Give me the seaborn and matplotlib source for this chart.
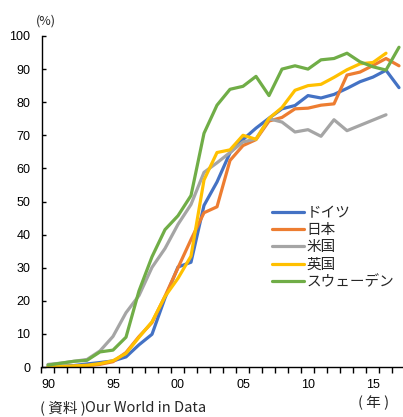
import numpy as np
import pandas as pd
import matplotlib
matplotlib.use("Agg")
import matplotlib.pyplot as plt
import seaborn as sns

years = list(range(1990, 2018))
germany = [0.13, 0.25, 0.44, 0.92, 1.35, 1.84, 3.05, 6.71, 9.88, 20.85, 30.2, 31.65, 48.82, 55.9,
           64.73, 68.71, 72.16, 75.16, 78.0, 79.0, 82.0, 81.27, 82.35, 84.17, 86.19, 87.59, 89.65, 84.4]
japan = [0.02, 0.04, 0.1, 0.4, 0.8, 1.6, 4.37, 9.2, 13.4, 21.4, 29.99, 38.5, 46.6, 48.4,
         62.4, 66.9, 68.7, 74.3, 75.4, 78.0, 78.2, 79.1, 79.5, 88.2, 89.1, 91.1, 93.2, 91.0]
usa = [0.78, 1.16, 1.72, 2.27, 4.86, 9.24, 16.4, 21.6, 30.1, 35.8, 43.1, 49.1, 58.8, 61.7,
       64.8, 68.0, 68.9, 75.0, 74.0, 71.0, 71.7, 69.7, 74.7, 71.4, 73.0, 74.6, 76.2]
uk = [0.09, 0.17, 0.35, 0.52, 1.04, 1.9, 4.1, 8.97, 13.67, 21.3, 26.8, 33.5, 56.5, 64.8,
      65.6, 70.0, 68.8, 75.1, 78.4, 83.6, 85.0, 85.4, 87.5, 89.8, 91.6, 92.0, 94.8]
sweden = [0.58, 1.16, 1.73, 2.02, 4.56, 5.1, 9.0, 23.0, 33.3, 41.5, 45.7, 51.8, 70.6, 79.1,
          83.9, 84.8, 87.8, 82.0, 90.0, 91.0, 90.0, 92.8, 93.2, 94.8, 92.2, 90.7, 89.7, 96.6]

series_names = ["ドイツ", "日本", "米国", "英国", "スウェーデン"]
series_values = [germany, japan, usa, uk, sweden]
colors = ["#4472C4", "#ED7D31", "#A5A5A5", "#FFC000", "#70AD47"]
xtick_years = [1990, 1995, 2000, 2005, 2010, 2015]
xtick_labels = ["90", "95", "00", "05", "10", "15"]

rows = []
for name, vals in zip(series_names, series_values):
    for y, v in zip(years, vals):
        rows.append({"year": y, "value": v, "country": name})
df = pd.DataFrame(rows)

sns.set_style("white")
plt.rcParams["font.family"] = ["Liberation Sans", "Noto Sans CJK JP", "DejaVu Sans"]

fig = plt.figure(figsize=(4.03, 4.17), dpi=100)
ax = fig.add_axes([41.5 / 403, 1 - 367 / 417, (405.5 - 41.5) / 403, 331 / 417])

sns.lineplot(data=df, x="year", y="value", hue="country", hue_order=series_names,
             palette=colors, linewidth=2.3, ax=ax, legend=True)

ax.set_xlim(1989.5, 2017.5)
ax.set_ylim(0, 100)
ax.set_xlabel("")
ax.set_ylabel("")
for s in ["top", "right"]:
    ax.spines[s].set_visible(False)
for s in ["left", "bottom"]:
    ax.spines[s].set_color("#000000")
    ax.spines[s].set_linewidth(1.0)

ax.set_yticks(range(0, 101, 10))
ax.tick_params(axis="y", direction="in", length=3, width=1, labelsize=9, pad=8, left=True, colors="#000000")
ax.set_xticks(xtick_years)
ax.set_xticklabels(xtick_labels)
ax.set_xticks(np.arange(1989.5, 2018, 1), minor=True)
ax.tick_params(axis="x", which="major", length=0, labelsize=9, pad=9, colors="#000000")
ax.tick_params(axis="x", which="minor", direction="out", length=4, width=1, bottom=True, colors="#000000")

handles, labels = ax.get_legend_handles_labels()
ax.legend(handles, labels, loc="upper left", bbox_to_anchor=(272 / 403, 1 - 206 / 417),
          bbox_transform=fig.transFigure, frameon=False,
          handlelength=2.2, handletextpad=0.15, labelspacing=0.22, borderpad=0, borderaxespad=0,
          prop={"family": ["Noto Sans CJK JP"], "size": 10.5})

fig.text(46 / 403, 1 - 21 / 417, "(%)", ha="center", va="center", fontsize=9,
         family=["Noto Sans CJK JP"])
fig.text(374 / 403, 1 - 403 / 417, "( 年 )", ha="center", va="center", fontsize=10.5,
         family=["Noto Sans CJK JP"])
fig.text(40 / 403, 1 - 408 / 417, "( 資料 )", ha="left", va="center", fontsize=10.5,
         family=["Noto Sans CJK JP"])
fig.text(85 / 403, 1 - 408 / 417, "Our World in Data", ha="left", va="center", fontsize=10.5,
         family=["Noto Sans CJK JP"])

fig.savefig("out.png", dpi=100)
